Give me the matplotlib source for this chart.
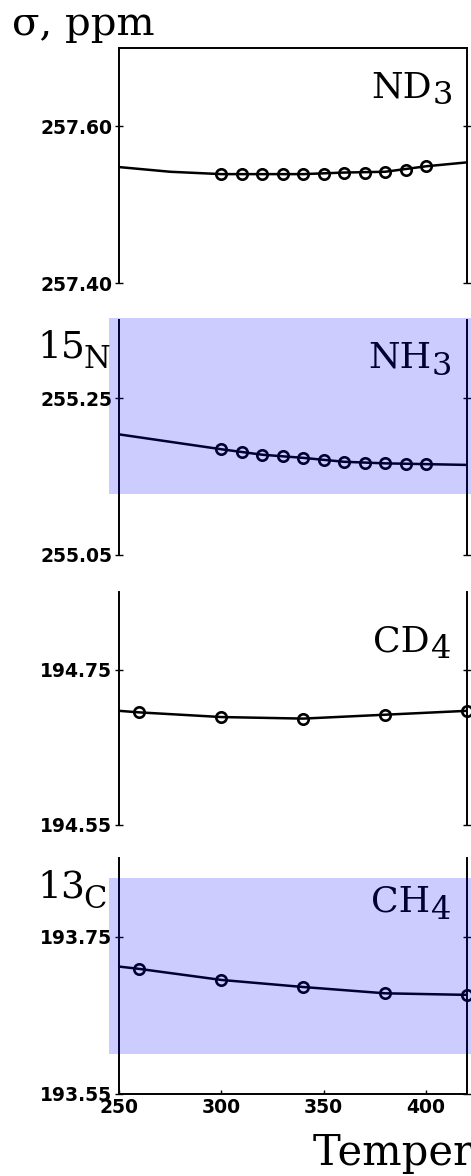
import matplotlib.pyplot as plt
from matplotlib.patches import Rectangle

W, H = 471, 1176

# shielding constants (ppm) vs temperature (K)
nd3_T = [300, 310, 320, 330, 340, 350, 360, 370, 380, 390, 400]
nd3_sigma = [257.539, 257.539, 257.539, 257.539, 257.539, 257.539, 257.541, 257.541, 257.542, 257.544, 257.549]
nd3_fit_T = [250, 275, 300, 340, 360, 380, 400, 420]
nd3_fit = [257.548, 257.542, 257.539, 257.539, 257.541, 257.542, 257.549, 257.554]

nh3_T = [300, 310, 320, 330, 340, 350, 360, 370, 380, 390, 400]
nh3_sigma = [255.185, 255.182, 255.178, 255.176, 255.174, 255.171, 255.169, 255.168, 255.167, 255.166, 255.166]
nh3_fit_T = [250, 300, 320, 340, 360, 380, 400, 420]
nh3_fit = [255.204, 255.185, 255.178, 255.174, 255.169, 255.167, 255.166, 255.165]

cd4_T = [260, 300, 340, 380, 420]
cd4_sigma = [194.695, 194.689, 194.687, 194.692, 194.697]
cd4_fit_T = [250, 260, 300, 340, 380, 420]
cd4_fit = [194.697, 194.695, 194.689, 194.687, 194.692, 194.697]

ch4_T = [260, 300, 340, 380, 420]
ch4_sigma = [193.709, 193.695, 193.686, 193.678, 193.676]
ch4_fit_T = [250, 260, 300, 340, 380, 420]
ch4_fit = [193.712, 193.709, 193.695, 193.686, 193.678, 193.676]

ylims = [(257.40, 257.70), (255.05, 255.35), (194.55, 194.85), (193.55, 193.85)]
yticks = [[257.40, 257.60], [255.05, 255.25], [194.55, 194.75], [193.55, 193.75]]
xticks = [250, 300, 350, 400]
names = [("ND", "3"), ("NH", "3"), ("CD", "4"), ("CH", "4")]


def fx(x):
    return x / W


def fy(y):
    return 1 - y / H


fig = plt.figure(figsize=(W / 100, H / 100), dpi=100)

# panel edges in pixels
left, right = 119, 467
tops = [48, 320, 592, 858]
bottoms = [283, 555, 825, 1094]

series = [(nd3_T, nd3_sigma, nd3_fit_T, nd3_fit),
          (nh3_T, nh3_sigma, nh3_fit_T, nh3_fit),
          (cd4_T, cd4_sigma, cd4_fit_T, cd4_fit),
          (ch4_T, ch4_sigma, ch4_fit_T, ch4_fit)]

axes = []
for i in range(4):
    ax = fig.add_axes([fx(left), fy(bottoms[i]), (right - left) / W, (bottoms[i] - tops[i]) / H])
    T, s, fT, f = series[i]
    ax.plot(fT, f, color='black', lw=1.8, zorder=2)
    ax.plot(T, s, 'o', mfc='none', mec='black', ms=7.5, mew=1.9, zorder=3, clip_on=False)
    ax.set_xlim(250, 420)
    ax.set_ylim(*ylims[i])
    ax.set_yticks(yticks[i])
    ax.set_yticklabels(['%.2f' % v for v in yticks[i]], fontsize=13.5, fontweight='bold')
    ax.yaxis.set_ticks_position('both')
    ax.tick_params(axis='y', direction='inout', length=6, width=1.0, pad=2)
    ax.set_facecolor('none')
    for side in ['left', 'right', 'top', 'bottom']:
        ax.spines[side].set_linewidth(1.4)
    if i > 0:
        ax.spines['top'].set_visible(False)
    if i < 3:
        ax.spines['bottom'].set_visible(False)
        ax.set_xticks([])
    else:
        ax.set_xticks(xticks)
        ax.set_xticklabels([str(t) for t in xticks], fontsize=13.5, fontweight='bold')
        ax.tick_params(axis='x', direction='in', length=3, width=1.0, pad=3)
    axes.append(ax)

serif = 'DejaVu Serif'

fig.text(fx(12), fy(35), 'σ, ppm', family=serif, fontsize=29, va='baseline')
fig.text(fx(313), fy(1165), 'Temperature, K', family=serif, fontsize=30, va='baseline')

# molecule labels with lowered subscript digit
label_pos = [(432, 97, 104), (431, 368, 375), (430, 652, 658), (430, 912, 919)]
for (base, sub), (xm, b0, b1) in zip(names, label_pos):
    fig.text(fx(xm), fy(b0), base, family=serif, fontsize=26, va='baseline', ha='right')
    fig.text(fx(xm + 1), fy(b1), sub, family=serif, fontsize=23, va='baseline', ha='left')

# isotope labels
fig.text(fx(37), fy(357), '15', family=serif, fontsize=27, va='baseline')
fig.text(fx(110), fy(368), 'N', family=serif, fontsize=22, va='baseline', ha='right')
fig.text(fx(37), fy(897), '13', family=serif, fontsize=27, va='baseline')
fig.text(fx(107), fy(908), 'C', family=serif, fontsize=22, va='baseline', ha='right')

# highlight bands over the 15N and 13C panels
for y0, y1 in [(318, 494), (878, 1054)]:
    fig.add_artist(Rectangle((fx(109), fy(y1)), 1 - fx(109), (y1 - y0) / H,
                             transform=fig.transFigure, facecolor='blue', alpha=0.2,
                             edgecolor='none', zorder=10))

fig.savefig('out.png', dpi=100)
